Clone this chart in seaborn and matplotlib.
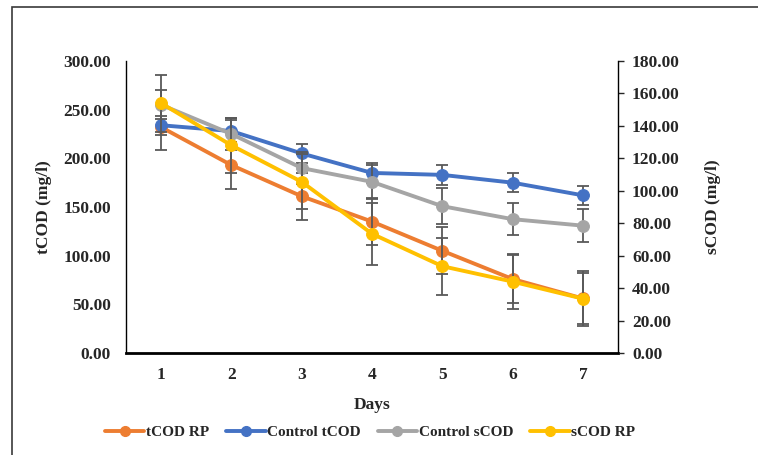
import numpy as np
import pandas as pd
import matplotlib
matplotlib.use("Agg")
import matplotlib.pyplot as plt
import seaborn as sns
from matplotlib.lines import Line2D
from matplotlib.patches import Rectangle

# data
days = [1, 2, 3, 4, 5, 6, 7]
tcod_rp = [232, 193, 161, 135, 105, 76, 56]
tcod_rp_err = [23, 24, 24, 24, 24, 25, 26]
control_tcod = [234, 228, 205, 185, 183, 175, 162]
control_tcod_err = [10, 11, 10, 10, 10, 10, 10]
control_scod = [153, 135, 114, 105.5, 90.5, 82.5, 78.5]
control_scod_err = [9, 10, 10, 10.5, 11, 10, 10]
scod_rp = [154, 128, 105.5, 73.5, 53.5, 44, 33.5]
scod_rp_err = [17.5, 17, 17, 19, 17.5, 17, 17]

left_ticks = [0, 50, 100, 150, 200, 250, 300]
right_ticks = [0, 20, 40, 60, 80, 100, 120, 140, 160, 180]

colors = {"tCOD RP": "#ED7D31", "Control tCOD": "#4472C4",
          "Control sCOD": "#A5A5A5", "sCOD RP": "#FFC000"}
err_color = "#595959"

sns.set_style("white")
plt.rcParams["font.family"] = ["Liberation Serif", "DejaVu Serif"]
plt.rcParams["font.weight"] = "bold"

fs = 12.5

fig = plt.figure(figsize=(7.58, 4.55), dpi=100)
ax = fig.add_axes([126 / 758, 1 - 353 / 455, (618 - 126) / 758, (353 - 61) / 455])
ax2 = ax.twinx()

# outer chart frame (cropped at right/bottom)
fig.patches.append(Rectangle((12 / 758, -0.05), 1.0, 1 - 7 / 455 + 0.05,
                             transform=fig.transFigure, fill=False,
                             edgecolor="#3a3a3a", linewidth=1.2, zorder=0))


def draw(axis, name, vals, errs, z):
    df = pd.DataFrame({"Days": days, "v": vals})
    axis.errorbar(days, vals, yerr=errs, fmt="none", ecolor=err_color,
                  elinewidth=1.3, capsize=4, capthick=1.3, zorder=z)
    sns.lineplot(data=df, x="Days", y="v", ax=axis, color=colors[name],
                 linewidth=2.8, marker="o", markersize=8.5,
                 markeredgecolor=colors[name], zorder=z + 1, legend=False)


draw(ax, "tCOD RP", tcod_rp, tcod_rp_err, 2)
draw(ax, "Control tCOD", control_tcod, control_tcod_err, 4)
draw(ax2, "Control sCOD", control_scod, control_scod_err, 2)
draw(ax2, "sCOD RP", scod_rp, scod_rp_err, 4)

ax.set_xlim(0.5, 7.5)
ax.set_ylim(0, 300)
ax2.set_ylim(0, 180)
ax.set_xticks(days)
ax.set_xticklabels([str(d) for d in days], fontsize=fs, fontweight="bold")
ax.set_yticks(left_ticks)
ax.set_yticklabels([f"{t:.2f}" for t in left_ticks], fontsize=fs, fontweight="bold")
ax2.set_yticks(right_ticks)
ax2.set_yticklabels([f"{t:.2f}" for t in right_ticks], fontsize=fs, fontweight="bold")

ax.tick_params(axis="x", length=0, pad=10)
ax.tick_params(axis="y", length=0, pad=11)
ax2.tick_params(axis="y", length=4, width=1, pad=6, direction="out")

for a in (ax, ax2):
    a.spines["top"].set_visible(False)
    a.grid(False)
ax.spines["right"].set_visible(False)
ax2.spines["left"].set_visible(False)
ax2.spines["bottom"].set_visible(False)
ax.spines["left"].set_linewidth(1.0)
ax.spines["left"].set_color("black")
ax.spines["bottom"].set_linewidth(2.0)
ax.spines["bottom"].set_color("black")
ax2.spines["right"].set_linewidth(1.0)
ax2.spines["right"].set_color("black")

ax.set_xlabel("Days", fontsize=fs, fontweight="bold", labelpad=10)
ax.set_ylabel("tCOD (mg/l)", fontsize=fs, fontweight="bold", labelpad=8)
ax2.set_ylabel("sCOD (mg/l)", fontsize=fs, fontweight="bold", labelpad=18)

handles = [Line2D([0], [0], color=colors[n], linewidth=2.8, marker="o",
                  markersize=7) for n in colors]
fig.legend(handles, list(colors.keys()), loc="center", ncol=4,
           bbox_to_anchor=(370 / 758, 1 - 432 / 455), frameon=False,
           prop={"weight": "bold", "size": 11}, handlelength=2.6,
           handletextpad=0.1, columnspacing=1.1)

fig.savefig("out.png", dpi=100)
